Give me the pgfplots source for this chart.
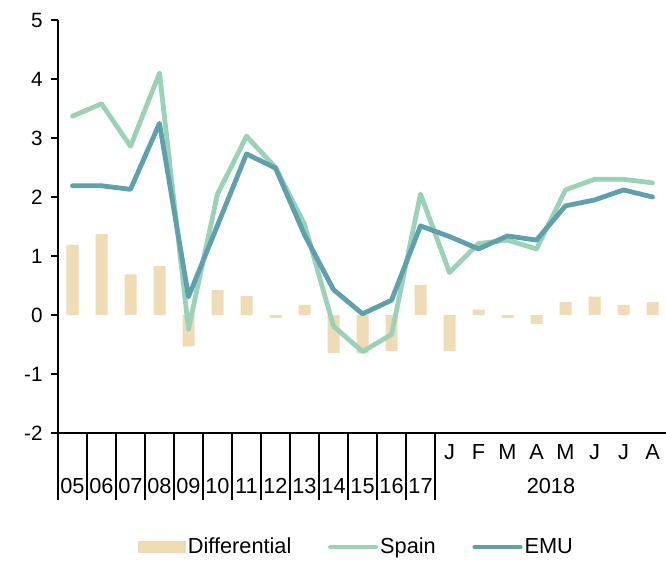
\documentclass[border=0pt]{standalone}
\usepackage{pgfplots}
\pgfplotsset{compat=1.18}
\usepackage{fontspec}
\setmainfont{Liberation Sans}
\definecolor{diffc}{HTML}{EFDCB4}
\definecolor{spainc}{HTML}{99D2B6}
\definecolor{emuc}{HTML}{5EA0AB}
\begin{document}
\begin{tikzpicture}
\begin{axis}[
  scale only axis,
  width=456.75pt, height=309.75pt,
  xmin=-0.5, xmax=20.5,
  ymin=-2, ymax=5,
  axis x line*=bottom, axis y line*=left,
  axis line style={line width=1.4pt, black},
  ytick={-2,-1,0,1,2,3,4,5},
  tick align=outside,
  major tick length=5pt,
  minor tick length=24.75pt,
  tick style={black, line width=0.9pt},
  yticklabel style={font=\fontsize{15.5}{18}\selectfont, xshift=-3pt, /pgf/number format/assume math mode=true},
  xtick=\empty,
  minor xtick={13.5,14.5,15.5,16.5,17.5,18.5,19.5},
  extra x ticks={-0.5,0.5,1.5,2.5,3.5,4.5,5.5,6.5,7.5,8.5,9.5,10.5,11.5,12.5,20.5},
  extra x tick labels={},
  extra x tick style={tick align=outside, major tick length=50pt},
  clip=false,
  legend columns=3,
  legend style={draw=none, fill=none, at={(0.49,0)}, anchor=center, yshift=-85.5pt,
    font=\fontsize{16.3}{19}\selectfont,
    nodes={inner xsep=1.5pt},
    /tikz/every even column/.append style={column sep=26pt}},
  legend cell align=left,
]
\coordinate (sw) at (rel axis cs:0,0);
\coordinate (ne) at (rel axis cs:1,1);
\addplot[ybar, bar width=9pt, bar shift=0pt, fill=diffc, draw=none,
  legend image code/.code={\fill[diffc] (0pt,-4.5pt) rectangle (36pt,4.5pt);}]
  coordinates {(0,1.19) (1,1.37) (2,0.69) (3,0.83) (4,-0.53) (5,0.42) (6,0.32) (7,-0.05) (8,0.17) (9,-0.64) (10,-0.65) (11,-0.61) (12,0.51) (13,-0.61) (14,0.09) (15,-0.05) (16,-0.15) (17,0.22) (18,0.31) (19,0.17) (20,0.22)};
\addlegendentry{Differential}
\addplot[spainc, line width=3.6pt, line join=round, line cap=round,
  legend image code/.code={\draw[spainc, line width=3.6pt, line cap=round] (0pt,0pt) -- (34pt,0pt);}]
  coordinates {(0,3.37) (1,3.58) (2,2.86) (3,4.10) (4,-0.24) (5,2.05) (6,3.03) (7,2.50) (8,1.54) (9,-0.19) (10,-0.62) (11,-0.33) (12,2.05) (13,0.72) (14,1.21) (15,1.27) (16,1.12) (17,2.12) (18,2.30) (19,2.30) (20,2.24)};
\addlegendentry{Spain}
\addplot[emuc, line width=3.6pt, line join=round, line cap=round,
  legend image code/.code={\draw[emuc, line width=3.6pt, line cap=round] (0pt,0pt) -- (34pt,0pt);}]
  coordinates {(0,2.19) (1,2.19) (2,2.13) (3,3.25) (4,0.31) (5,1.52) (6,2.73) (7,2.49) (8,1.36) (9,0.43) (10,0.02) (11,0.25) (12,1.51) (13,1.33) (14,1.12) (15,1.34) (16,1.27) (17,1.85) (18,1.95) (19,2.12) (20,2.00)};
\addlegendentry{EMU}
\begin{scope}[every node/.style={font=\fontsize{16.3}{19}\selectfont, inner sep=0pt}]
\node at (axis cs:0,-2) [yshift=-40pt] {05};
\node at (axis cs:1,-2) [yshift=-40pt] {06};
\node at (axis cs:2,-2) [yshift=-40pt] {07};
\node at (axis cs:3,-2) [yshift=-40pt] {08};
\node at (axis cs:4,-2) [yshift=-40pt] {09};
\node at (axis cs:5,-2) [yshift=-40pt] {10};
\node at (axis cs:6,-2) [yshift=-40pt] {11};
\node at (axis cs:7,-2) [yshift=-40pt] {12};
\node at (axis cs:8,-2) [yshift=-40pt] {13};
\node at (axis cs:9,-2) [yshift=-40pt] {14};
\node at (axis cs:10,-2) [yshift=-40pt] {15};
\node at (axis cs:11,-2) [yshift=-40pt] {16};
\node at (axis cs:12,-2) [yshift=-40pt] {17};
\node at (axis cs:13,-2) [yshift=-14.5pt] {J};
\node at (axis cs:14,-2) [yshift=-14.5pt] {F};
\node at (axis cs:15,-2) [yshift=-14.5pt] {M};
\node at (axis cs:16,-2) [yshift=-14.5pt] {A};
\node at (axis cs:17,-2) [yshift=-14.5pt] {M};
\node at (axis cs:18,-2) [yshift=-14.5pt] {J};
\node at (axis cs:19,-2) [yshift=-14.5pt] {J};
\node at (axis cs:20,-2) [yshift=-14.5pt] {A};
\node at (axis cs:16.5,-2) [yshift=-40pt] {2018};
\end{scope}
\end{axis}
\pgfresetboundingbox
\path ([xshift=-43.5pt,yshift=-97.5pt]sw) rectangle ([xshift=-0.75pt,yshift=15pt]ne);
\end{tikzpicture}
\end{document}
